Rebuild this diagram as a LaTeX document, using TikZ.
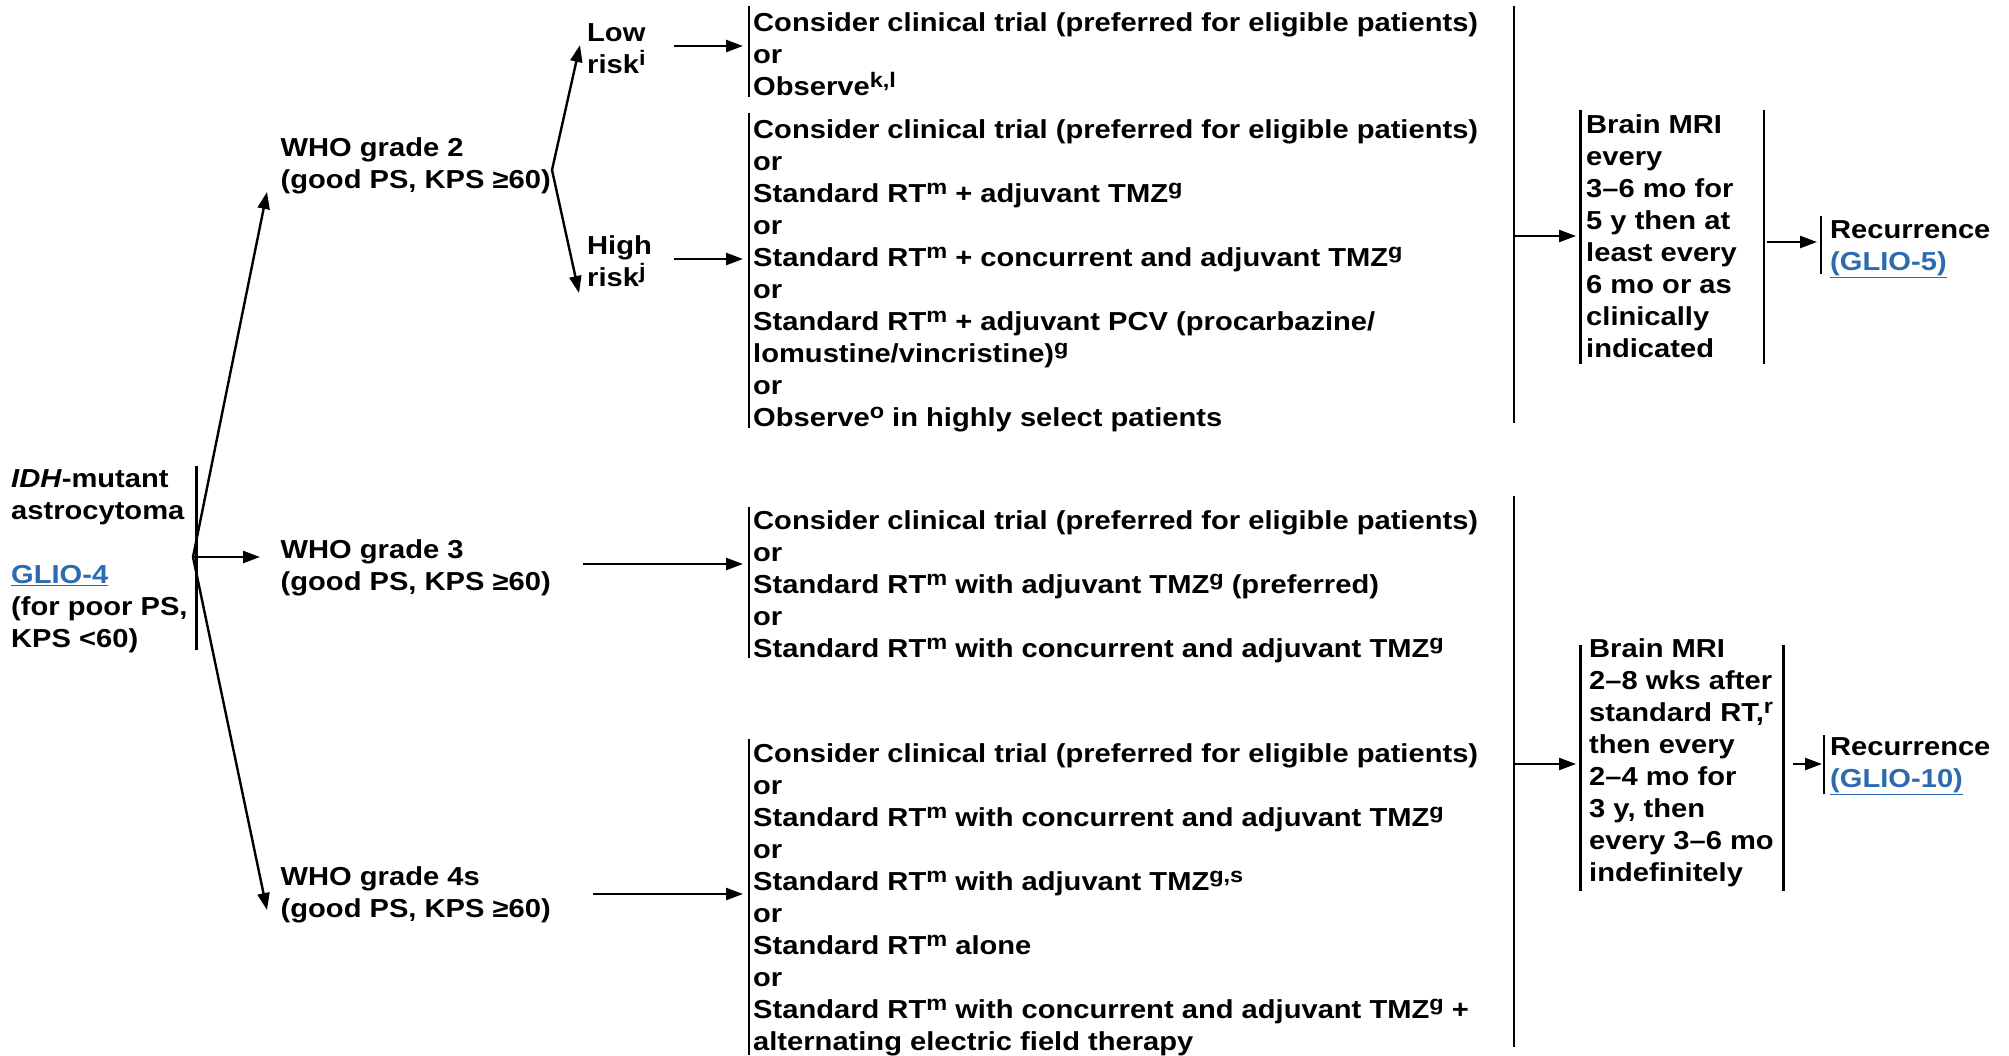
\documentclass[tikz,border=0pt]{standalone}
\usepackage{fontspec}
\setmainfont{Liberation Sans}[FakeStretch=1.12]
\usetikzlibrary{arrows.meta}
\definecolor{linkblue}{RGB}{44,107,176}
\newcommand{\lnk}[1]{\textcolor{linkblue}{\underline{#1}}}
\newcommand{\tp}{\rule{0pt}{25bp}}
\newcommand{\sups}[1]{\raisebox{8bp}{\fontsize{21bp}{21bp}\selectfont\bfseries #1}}
\begin{document}
\begin{tikzpicture}[x=1bp,y=-1bp,
  txt/.style={anchor=north west,inner sep=0pt,align=left,
    font=\fontsize{26bp}{32bp}\selectfont\bfseries},
  arr/.style={line width=2.4bp,-{Triangle[length=17bp,width=12bp]}},
  bar/.style={line width=2.6bp}]
\fill[white] (0,0) rectangle (2009,1055);
\useasboundingbox (0,0) rectangle (2009,1055);

% entry point
\node[txt] (root) at (11,462) {\tp\textit{IDH}-mutant\\astrocytoma\\[32bp]\lnk{GLIO-4}\\(for poor PS,\\KPS <60)};
\draw[bar] (196.5,466) -- (196.5,650);
\coordinate (s1) at (193,557);

% grades
\node[txt] (who2) at (280.5,131) {\tp WHO grade 2\\(good PS, KPS ≥60)};
\node[txt] (who3) at (280.5,533) {\tp WHO grade 3\\(good PS, KPS ≥60)};
\node[txt] (who4) at (280.5,860) {\tp WHO grade 4s\\(good PS, KPS ≥60)};
\coordinate (t2) at (267,192);
\coordinate (t3) at (260,557);
\coordinate (t4) at (267,910);
\draw[arr] (s1) -- (t2);
\draw[arr] (s1) -- (t3);
\draw[arr] (s1) -- (t4);

% risk split for grade 2
\coordinate (s2) at (552,170);
\node[txt] (low) at (587,16) {\tp Low\\risk\sups{i}};
\node[txt] (high) at (587,229) {\tp High\\risk\sups{j}};
\coordinate (tl) at (580,45);
\coordinate (th) at (579,293);
\draw[arr] (s2) -- (tl);
\draw[arr] (s2) -- (th);

% treatment options
\node[txt] (opt1) at (753,6) {\tp Consider clinical trial (preferred for eligible patients)\\or\\Observe\sups{k,l}};
\node[txt] (opt2) at (753,113) {\tp Consider clinical trial (preferred for eligible patients)\\or\\Standard RT\sups{m} + adjuvant TMZ\sups{g}\\or\\Standard RT\sups{m} + concurrent and adjuvant TMZ\sups{g}\\or\\Standard RT\sups{m} + adjuvant PCV (procarbazine/\\lomustine/vincristine)\sups{g}\\or\\Observe\sups{o} in highly select patients};
\node[txt] (opt3) at (753,504) {\tp Consider clinical trial (preferred for eligible patients)\\or\\Standard RT\sups{m} with adjuvant TMZ\sups{g} (preferred)\\or\\Standard RT\sups{m} with concurrent and adjuvant TMZ\sups{g}};
\node[txt] (opt4) at (753,737) {\tp Consider clinical trial (preferred for eligible patients)\\or\\Standard RT\sups{m} with concurrent and adjuvant TMZ\sups{g}\\or\\Standard RT\sups{m} with adjuvant TMZ\sups{g,s}\\or\\Standard RT\sups{m} alone\\or\\Standard RT\sups{m} with concurrent and adjuvant TMZ\sups{g} +\\alternating electric field therapy};
\draw[bar] (749,6) -- (749,97);
\draw[bar] (749,113) -- (749,428);
\draw[bar] (749,507) -- (749,658);
\draw[bar] (749,739) -- (749,1055);

\coordinate (l0) at (674,46);   \coordinate (l1) at (743,46);
\coordinate (h0) at (674,259);  \coordinate (h1) at (743,259);
\coordinate (g30) at (583,564); \coordinate (g31) at (743,564);
\coordinate (g40) at (593,894); \coordinate (g41) at (743,894);
\draw[arr] (l0) -- (l1);
\draw[arr] (h0) -- (h1);
\draw[arr] (g30) -- (g31);
\draw[arr] (g40) -- (g41);

% follow-up, upper branch
\draw[bar] (1514,6) -- (1514,423);
\node[txt] (mri1) at (1586,108) {\tp Brain MRI\\every\\3–6 mo for\\5 y then at\\least every\\6 mo or as\\clinically\\indicated};
\draw[bar] (1580.5,110) -- (1580.5,364);
\draw[bar] (1764,110) -- (1764,364);
\coordinate (a0) at (1514,236); \coordinate (a1) at (1576,236);
\draw[arr] (a0) -- (a1);
\node[txt] (rec1) at (1830,213) {\tp Recurrence\\\lnk{(GLIO-5)}};
\draw[bar] (1821,216) -- (1821,274);
\coordinate (b0) at (1767,242); \coordinate (b1) at (1817,242);
\draw[arr] (b0) -- (b1);

% follow-up, lower branch
\draw[bar] (1514,496) -- (1514,1047);
\node[txt] (mri2) at (1589,632) {\tp Brain MRI\\2–8 wks after\\standard RT,\sups{r}\\then every\\2–4 mo for\\3 y, then\\every 3–6 mo\\indefinitely};
\draw[bar] (1580.5,645) -- (1580.5,891);
\draw[bar] (1783.5,645) -- (1783.5,891);
\coordinate (c0) at (1514,764); \coordinate (c1) at (1576,764);
\draw[arr] (c0) -- (c1);
\node[txt] (rec2) at (1830,730) {\tp Recurrence\\\lnk{(GLIO-10)}};
\draw[bar] (1824,735) -- (1824,794);
\coordinate (d0) at (1793,764); \coordinate (d1) at (1822,764);
\draw[arr] (d0) -- (d1);
\end{tikzpicture}
\end{document}
